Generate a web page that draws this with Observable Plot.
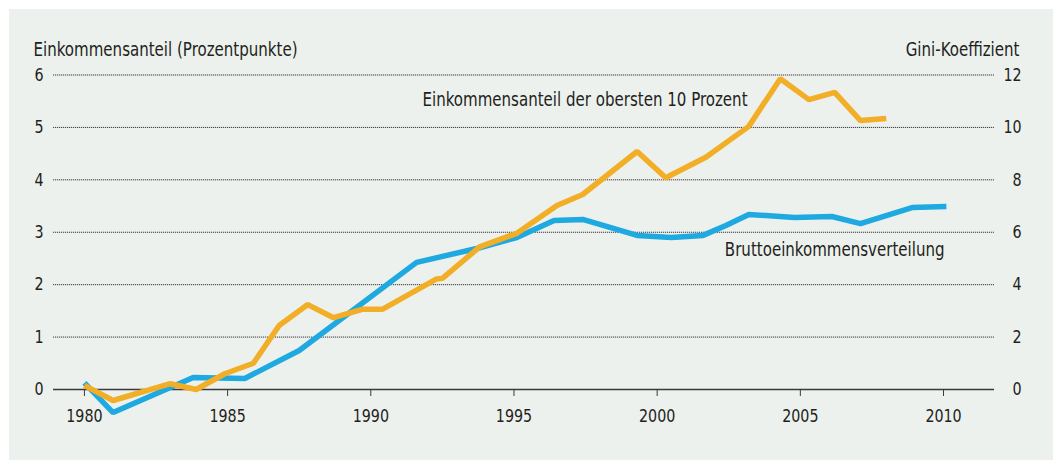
<!DOCTYPE html>
<html lang="de">
<head>
<meta charset="utf-8">
<script src="https://cdn.jsdelivr.net/npm/d3@7"></script>
<script src="https://cdn.jsdelivr.net/npm/@observablehq/plot@0.6"></script>
<style>
  html, body { margin: 0; padding: 0; background: #ffffff; }
  #chart { position: absolute; left: 9px; top: 9px; width: 1044px; height: 451px; background: #edf1ee; }
  #chart svg { display: block; }
</style>
</head>
<body>
<div id="chart"></div>
<script>
// Einkommensanteil der obersten 10 Prozent (Prozentpunkte, linke Achse)
const topYears  = [1980, 1981, 1983, 1983.9, 1984.9, 1985.9, 1986.8, 1987.8, 1988.7, 1989.7, 1990.4, 1992.3, 1992.5, 1993.8, 1995.1, 1996.5, 1997.4, 1999.3, 2000.3, 2001.7, 2003.2, 2004.3, 2005.3, 2006.2, 2007.1, 2008.0];
const topShare  = [0.08, -0.21, 0.11, 0.0, 0.30, 0.50, 1.22, 1.62, 1.37, 1.53, 1.53, 2.11, 2.12, 2.72, 2.98, 3.51, 3.72, 4.54, 4.04, 4.43, 5.02, 5.93, 5.53, 5.67, 5.13, 5.17];

// Gini-Koeffizient der Bruttoeinkommensverteilung (rechte Achse)
const giniYears = [1980, 1981, 1983.8, 1985.6, 1987.5, 1991.6, 1993.7, 1995.1, 1996.4, 1997.4, 1999.3, 2000.5, 2001.6, 2002.4, 2003.2, 2004.8, 2006.1, 2007.1, 2008.9, 2010.1];
const gini      = [0.25, -0.88, 0.46, 0.42, 1.49, 4.85, 5.38, 5.80, 6.45, 6.49, 5.88, 5.80, 5.88, 6.26, 6.68, 6.56, 6.60, 6.33, 6.94, 6.98];

const xTicks = [1980, 1985, 1990, 1995, 2000, 2005, 2010];
const yTicks = [0, 1, 2, 3, 4, 5, 6];
const giniPerPoint = 2; // 6 Prozentpunkte entsprechen einem Gini-Wert von 12

const labelTop  = "Einkommensanteil der obersten 10 Prozent";
const labelGini = "Bruttoeinkommensverteilung";
const titleLeft = "Einkommensanteil (Prozentpunkte)";
const titleRight = "Gini-Koeffizient";

const topData  = topYears.map((year, i) => ({year, value: topShare[i]}));
const giniData = giniYears.map((year, i) => ({year, value: gini[i] / giniPerPoint}));

const orange = "#f2ae26";
const blue = "#1ea9e0";
const ink = "#231f20";

const chart = Plot.plot({
  width: 1044,
  height: 451,
  marginLeft: 44,
  marginRight: 59,
  marginTop: 65.5,
  marginBottom: 71,
  style: {
    background: "transparent",
    fontFamily: "'DejaVu Sans Condensed', 'Liberation Sans Narrow', 'Roboto Condensed', sans-serif",
    fontSize: "18px",
    color: ink
  },
  x: {domain: [1978.92, 2011.78]},
  y: {domain: [0, 6]},
  marks: [
    Plot.gridY(yTicks.filter(d => d > 0), {stroke: "#3a3a3a", strokeOpacity: 1, strokeWidth: 1, strokeDasharray: "1.2,0.8"}),
    Plot.ruleY([0], {stroke: "#3a3a3a", strokeWidth: 1.3}),
    Plot.axisX({ticks: xTicks, tickFormat: d => String(d), tickSize: 7, tickPadding: 13, stroke: "#3a3a3a", label: null, fontSize: 18}),
    Plot.axisY({anchor: "left", ticks: yTicks, tickFormat: d => String(d), tickSize: 0, tickPadding: 10, label: null, fontSize: 18}),
    Plot.axisY({anchor: "right", ticks: yTicks, tickFormat: d => String(d * giniPerPoint), tickSize: 0, tickPadding: 27, textAnchor: "end", label: null, fontSize: 18}),
    Plot.lineY(giniData, {x: "year", y: "value", stroke: blue, strokeWidth: 5.5, strokeLinejoin: "miter", strokeLinecap: "butt"}),
    Plot.lineY(topData, {x: "year", y: "value", stroke: orange, strokeWidth: 5.5, strokeLinejoin: "miter", strokeLinecap: "butt"}),
    Plot.text([labelTop], {x: 1997.48, y: 5.52, text: d => d, fontSize: 19, fill: ink}),
    Plot.text([labelGini], {x: 2006.2, y: 2.67, text: d => d, fontSize: 19, fill: ink}),
    Plot.text([titleLeft], {frameAnchor: "top-left", textAnchor: "start", dx: -20, dy: -33, text: d => d, fontSize: 19, fill: ink}),
    Plot.text([titleRight], {frameAnchor: "top-right", textAnchor: "end", dx: 25, dy: -33, text: d => d, fontSize: 19, fill: ink})
  ]
});

document.getElementById("chart").appendChild(chart);

// Schrift schmaler setzen (Condensed-Anmutung)
chart.querySelectorAll("text").forEach(t => {
  const w = t.getComputedTextLength();
  if (w > 0) {
    t.setAttribute("textLength", (w * 0.88).toFixed(1));
    t.setAttribute("lengthAdjust", "spacingAndGlyphs");
  }
});
</script>
</body>
</html>
